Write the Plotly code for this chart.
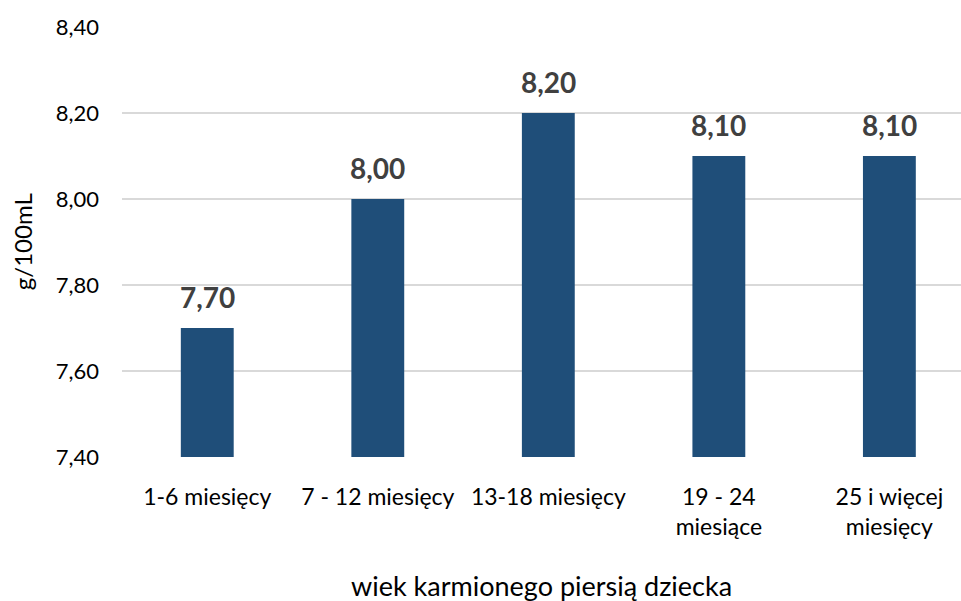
import plotly.graph_objects as go

# Age groups of breastfed children and mean milk values (g/100mL)
categories = ["1-6 miesięcy", "7 - 12 miesięcy", "13-18 miesięcy", "19 - 24<br>miesiące", "25 i więcej<br>miesięcy"]
values = [7.70, 8.00, 8.20, 8.10, 8.10]
y_ticks = [7.40, 7.60, 7.80, 8.00, 8.20, 8.40]

BAR_COLOR = "#1F4E79"
FONT = "Lato, 'Open Sans', sans-serif"

fig = go.Figure()
fig.add_trace(go.Bar(
    x=list(range(len(categories))),
    y=[v - y_ticks[0] for v in values],
    base=y_ticks[0],
    width=0.31,
    marker=dict(color=BAR_COLOR, line=dict(width=0)),
    hoverinfo="skip",
))

# Value labels above each bar
for i, v in enumerate(values):
    fig.add_annotation(
        x=i, y=v, xref="x", yref="y",
        text=f"<b>{v:.2f}</b>".replace(".", ","),
        showarrow=False, yanchor="bottom", yshift=12,
        font=dict(family=FONT, size=28, color="#404040"),
    )

fig.add_annotation(
    x=0.5, y=-0.298, xref="paper", yref="paper",
    text="wiek karmionego piersią dziecka", showarrow=False,
    xanchor="center", yanchor="middle",
    font=dict(family=FONT, size=27, color="#000000"),
)
fig.add_annotation(
    x=-0.119, y=0.5, xref="paper", yref="paper",
    text="g/100mL", showarrow=False, textangle=-90,
    xanchor="center", yanchor="middle",
    font=dict(family=FONT, size=24, color="#000000"),
)

fig.update_layout(
    width=961, height=601,
    margin=dict(l=122, r=0, t=27, b=144),
    paper_bgcolor="white", plot_bgcolor="white",
    showlegend=False,
    font=dict(family=FONT, size=23, color="#000000"),
    xaxis=dict(
        range=[-0.5, 4.42],
        tickmode="array",
        tickvals=list(range(len(categories))),
        ticktext=categories,
        showgrid=False, zeroline=False, showline=False,
        ticks="", ticklabelstandoff=24,
        tickfont=dict(family=FONT, size=23, color="#000000"),
    ),
    yaxis=dict(
        range=[y_ticks[0], y_ticks[-1]],
        tickmode="array",
        tickvals=y_ticks,
        ticktext=[f"{t:.2f}".replace(".", ",") for t in y_ticks],
        showgrid=True, gridcolor="#D9D9D9", gridwidth=1.5,
        zeroline=False, showline=False,
        ticks="", ticklabelstandoff=22,
        tickfont=dict(family=FONT, size=22, color="#000000"),
    ),
)

fig.write_html("out.html")
